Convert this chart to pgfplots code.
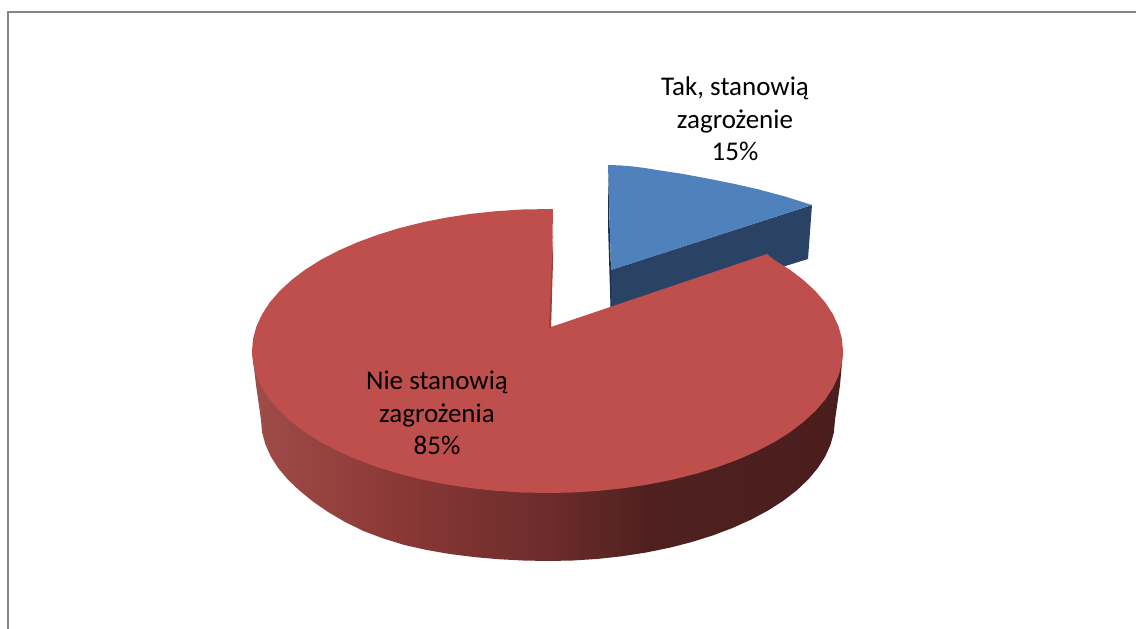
\documentclass[border=0pt]{standalone}
\usepackage{fontspec}
\setmainfont{Carlito}
\usepackage{pgfplots}
\pgfplotsset{compat=1.18}

\definecolor{redtop}{HTML}{BE4F4C}
\definecolor{redfold}{HTML}{9A3F3C}
\definecolor{bluetop}{HTML}{4F81BD}
\definecolor{blueside}{HTML}{2A4365}
\definecolor{bluefold}{HTML}{1C2F4A}
\definecolor{frameline}{HTML}{868686}
\definecolor{sideA}{HTML}{A04C49}
\definecolor{sideB}{HTML}{8A3836}
\definecolor{sideC}{HTML}{692B2A}
\definecolor{sideD}{HTML}{4F201F}
\definecolor{sideE}{HTML}{4A1E1D}
\pgfdeclarehorizontalshading{redside}{100bp}{
  color(0bp)=(sideA); color(25bp)=(sideA); color(37.5bp)=(sideB);
  color(51bp)=(sideC); color(58.6bp)=(sideD); color(75bp)=(sideE); color(100bp)=(sideE)}

\begin{document}
\begin{tikzpicture}
  \begin{axis}[
      width=1136pt, height=629pt, scale only axis,
      xmin=0, xmax=1136, ymin=0, ymax=629,
      y dir=reverse,
      hide axis,
      clip=true
    ]
    % chart frame, only left and top are visible
    \addplot[frameline, line width=2pt, forget plot] coordinates {(7.8,629) (7.8,11.7) (1136,11.7)};

    % blue slice, side first
    \addplot[fill=blueside, draw=none, forget plot] coordinates {
      (812,205) (808,259) (611,320) (610.5,270)
    } --cycle;
    \addplot[fill=bluefold, draw=none, forget plot] coordinates {
      (608,170) (608,225) (610.5,307) (611,307) (611,270)
    } --cycle;
    \addplot[fill=bluetop, draw=none, forget plot] coordinates {
      (608,165) (620,165.4) (632,166.4) (645,168) (657,170) (682,173.8) (707,178.4) (732,183.4) (757,189) (785,196.5) (812,205) (611,270)
    } --cycle;

    % red slice, outer wall
    \addplot[shade, shading=redside, draw=none, forget plot] coordinates {
      (252,351) (256,385) (261,420)
      (262.1,432.3) (265.4,444.5) (270.8,456.5) (278.3,468.2) (287.9,479.6) (299.4,490.5)
      (312.9,501.5) (328.1,512) (345.1,522) (363.5,531) (383.4,538.5) (404.5,545)
      (426.7,550) (449.8,554) (473.7,557) (498.2,559.2) (523,560.5) (548,561)
      (573,560.5) (597.8,558.9) (622.3,556.2) (646.2,552.5) (669.3,547.8) (691.5,542.1)
      (712.6,535.5) (732.5,528) (750.9,519.7) (767.9,510.6) (783.1,500.9) (796.6,490.5)
      (808.1,479.6) (817.7,468.2) (825.2,456.5) (830.6,444.5) (833.9,432.3) (835,420)
      (840,385) (843,351)
    } --cycle;

    % red slice, top
    \addplot[fill=redtop, draw=none, forget plot] coordinates {
      (553,209) (521.7,209.5) (496.2,211.2) (471,213.8) (446.4,217.6) (422.6,222.3) (399.8,228)
      (378,234.7) (357.6,242.2) (338.5,250.6) (321.1,259.7) (305.4,269.5) (291.6,280)
      (279.7,291) (269.8,302.4) (262.1,314.2) (256.5,326.3) (253.1,338.6) (252,351)
      (253.1,363.4) (256.5,375.7) (262.1,387.8) (269.8,399.6) (279.7,411) (291.6,422)
      (305.4,432.5) (321.1,442.3) (338.5,451.4) (357.6,459.8) (378,467.3) (399.8,474)
      (422.6,479.7) (446.4,484.4) (471,488.2) (496.2,490.8) (521.7,492.5) (547.5,493)
      (573.3,492.5) (598.8,490.8) (624,488.2) (648.6,484.4) (672.4,479.7) (695.2,474)
      (717,467.3) (737.4,459.8) (756.5,451.4) (773.9,442.3) (789.6,432.5) (803.4,422)
      (815.3,411) (825.2,399.6) (832.9,387.8) (838.5,375.7) (841.9,363.4) (843,351)
      (841.9,338.6) (838.5,326.3) (832.9,314.2) (825.2,302.4) (815.3,291) (803.4,280)
      (789.6,269.5) (773.9,259.7) (767,254) (551,327)
    } --cycle;
    \addplot[fill=redfold, draw=none, forget plot] coordinates {
      (553,235) (553,262) (551,328) (549,328)
    } --cycle;

    \node[align=center, font=\fontsize{27}{32.5}\selectfont, text=black] at (axis cs:735,119) {Tak, stanowią\\zagrożenie\\15\%};
    \node[align=center, font=\fontsize{27}{32.5}\selectfont, text=black] at (axis cs:437,413) {Nie stanowią\\zagrożenia\\85\%};
  \end{axis}
  % keep the page at the full chart size
  \path (0,0) rectangle (1136pt,629pt);
\end{tikzpicture}
\end{document}
